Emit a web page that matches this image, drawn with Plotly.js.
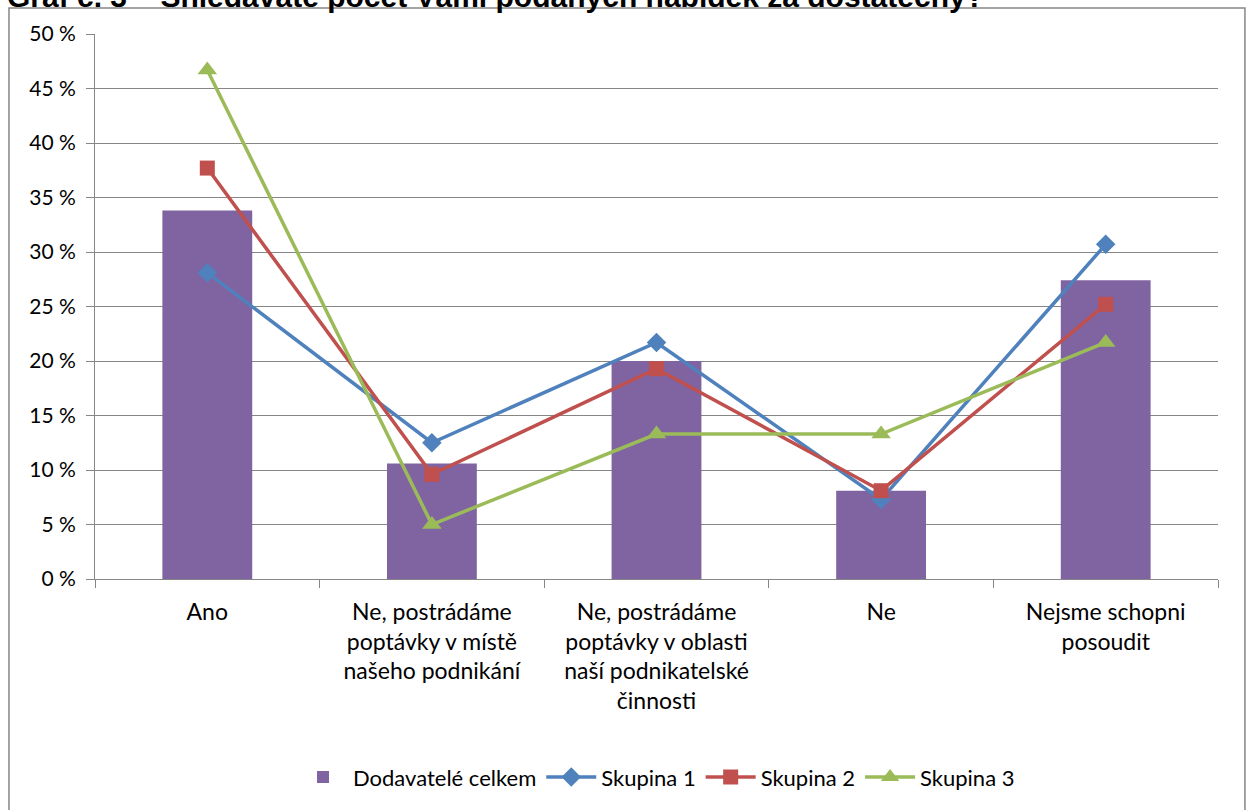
<!DOCTYPE html>
<html>
<head>
<meta charset="utf-8">
<script src="https://cdn.plot.ly/plotly-3.0.1.min.js"></script>
<style>html,body{margin:0;padding:0;background:#fff;}#chart{width:1249px;height:810px;}</style>
</head>
<body>
<div id="chart"></div>
<script>
const categories = [
  "Ano",
  "Ne, postrádáme<br>poptávky v místě<br>našeho podnikání",
  "Ne, postrádáme<br>poptávky v oblasti<br>naší podnikatelské<br>činnosti",
  "Ne",
  "Nejsme schopni<br>posoudit"
];
const dodavateleCelkem = [33.8, 10.6, 20.0, 8.1, 27.4];
const skupina1 = [28.1, 12.5, 21.7, 7.3, 30.7];
const skupina2 = [37.7, 9.6, 19.3, 8.1, 25.2];
const skupina3 = [46.7, 5.0, 13.3, 13.3, 21.7];
const yTickVals = [0, 5, 10, 15, 20, 25, 30, 35, 40, 45, 50];
const yTickText = ["0 %", "5 %", "10 %", "15 %", "20 %", "25 %", "30 %", "35 %", "40 %", "45 %", "50 %"];
const titleText = "Graf č. 3 – Shledáváte počet Vámi podaných nabídek za dostatečný?";

const lineStyle = (c) => ({color: c, width: 3.5});
const traces = [
  {type: "bar", name: "Dodavatelé celkem", x: categories, y: dodavateleCelkem,
   marker: {color: "#8064A2"}},
  {type: "scatter", mode: "lines+markers", name: "Skupina 1", x: categories, y: skupina1,
   line: lineStyle("#4F81BD"), marker: {symbol: "diamond", size: 15, color: "#4F81BD"}},
  {type: "scatter", mode: "lines+markers", name: "Skupina 2", x: categories, y: skupina2,
   line: lineStyle("#C0504D"), marker: {symbol: "square", size: 15, color: "#C0504D"}},
  {type: "scatter", mode: "lines+markers", name: "Skupina 3", x: categories, y: skupina3,
   line: lineStyle("#9BBB59"), marker: {symbol: "triangle-up", size: 17, color: "#9BBB59"}}
];

const layout = {
  width: 1249, height: 810,
  margin: {l: 95, r: 31, t: 34, b: 231, pad: 0},
  paper_bgcolor: "#ffffff", plot_bgcolor: "#ffffff",
  font: {family: "Lato, 'Open Sans', sans-serif", color: "#000000", size: 20},
  annotations: [
    {text: "<b>" + titleText + "</b>", xref: "paper", yref: "paper", x: -0.0801, y: 1.0688,
     xanchor: "left", yanchor: "middle", showarrow: false,
     font: {family: "'Liberation Sans', Arial, sans-serif", size: 30, color: "#000"}}
  ],
  bargap: 0.6,
  showlegend: true,
  legend: {orientation: "h", x: 0.5, xanchor: "center", y: -0.325, yanchor: "top",
           font: {size: 22, family: "Lato, sans-serif"}, traceorder: "normal", itemwidth: 50},
  xaxis: {type: "category", tickson: "boundaries", ticks: "outside", ticklen: 8, tickcolor: "#868686",
          showline: true, linecolor: "#868686", linewidth: 1, showgrid: false,
          tickfont: {size: 23}, ticklabelstandoff: 12, automargin: false},
  yaxis: {range: [0, 50], tickvals: yTickVals, ticktext: yTickText, ticks: "outside", ticklen: 8,
          tickcolor: "#868686", showline: true, linecolor: "#868686", linewidth: 1,
          gridcolor: "#868686", gridwidth: 1, zeroline: false, tickfont: {size: 21},
          ticklabelstandoff: 6, automargin: false},
  shapes: [
    {type: "rect", xref: "paper", yref: "paper", x0: -0.0766, x1: 1.024, y0: -0.43, y1: 1.0477,
     line: {color: "#868686", width: 1.5}, fillcolor: "rgba(0,0,0,0)", layer: "below"}
  ]
};

Plotly.newPlot("chart", traces, layout, {displayModeBar: false, staticPlot: true});
</script>
</body>
</html>
